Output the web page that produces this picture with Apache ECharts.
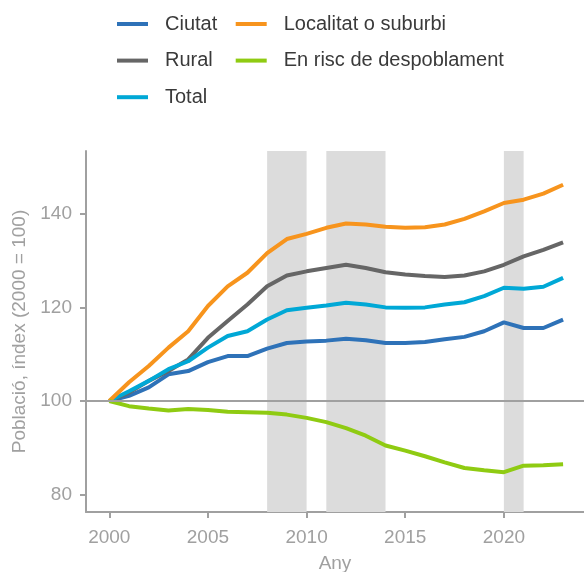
<!DOCTYPE html>
<html>
<head>
<meta charset="utf-8">
<script src="https://cdn.jsdelivr.net/npm/echarts@6/dist/echarts.min.js"></script>
<style>
  html, body { margin: 0; padding: 0; background: #fff; }
  #chart { width: 584px; height: 572px; }
</style>
</head>
<body>
<div id="chart"></div>
<script>
const years = [2000, 2001, 2002, 2003, 2004, 2005, 2006, 2007, 2008, 2009, 2010, 2011,
  2012, 2013, 2014, 2015, 2016, 2017, 2018, 2019, 2020, 2021, 2022, 2023];

const ciutat = [100, 101.1, 102.9, 105.7, 106.4, 108.3, 109.6, 109.6, 111.2, 112.4, 112.7, 112.9,
  113.3, 113.0, 112.4, 112.4, 112.6, 113.2, 113.7, 114.9, 116.8, 115.6, 115.6, 117.4];
const rural = [100, 101.8, 104.3, 106.4, 108.9, 113.5, 117.1, 120.6, 124.5, 126.8, 127.7, 128.4,
  129.1, 128.4, 127.5, 127.0, 126.7, 126.5, 126.8, 127.7, 129.1, 130.9, 132.3, 133.9];
const total = [100, 102.1, 104.3, 106.8, 108.5, 111.4, 113.9, 114.9, 117.4, 119.4, 119.9, 120.4,
  121.0, 120.6, 120.0, 119.9, 120.0, 120.6, 121.1, 122.4, 124.2, 124.0, 124.4, 126.3];
const localitat = [100, 104.0, 107.5, 111.4, 114.9, 120.3, 124.5, 127.4, 131.6, 134.6, 135.7, 137.0,
  137.9, 137.7, 137.2, 137.0, 137.1, 137.7, 138.9, 140.5, 142.3, 143.0, 144.3, 146.2];
const risc = [100, 98.9, 98.4, 98.0, 98.3, 98.1, 97.7, 97.6, 97.5, 97.1, 96.4, 95.5,
  94.2, 92.6, 90.5, 89.4, 88.2, 86.9, 85.7, 85.2, 84.8, 86.2, 86.3, 86.5];

// períodes ombrejats
const bandStart = [2008, 2011, 2020];
const bandEnd = [2010, 2014, 2021];

const xTicks = [2000, 2005, 2010, 2015, 2020];
const yTicks = [80, 100, 120, 140];

const axisGrey = '#a0a0a0';
const font = 'Liberation Sans, Arial, sans-serif';

const mkSeries = (name, data, color) => ({
  name,
  type: 'line',
  z: 3,
  color,
  data: years.map((y, i) => [y, data[i]]),
  showSymbol: false,
  lineStyle: { width: 4, color },
  silent: true,
});

const legendText = { fontFamily: font, fontSize: 20, lineHeight: 22, color: '#3a3a3a', padding: [0, 0, 0, 12] };

const chart = echarts.init(document.getElementById('chart'));

chart.setOption({
  animation: false,
  grid: {
    left: 86,
    right: 0,
    top: 151,
    bottom: 60,
    outerBoundsMode: 'none',
    containLabel: false,
  },
  legend: [
    {
      data: ['Ciutat', 'Rural', 'Total'],
      orient: 'vertical',
      left: 117,
      top: 13,
      padding: 0,
      icon: 'rect',
      itemWidth: 31,
      itemHeight: 4,
      itemGap: 14.6,
      textStyle: legendText,
    },
    {
      data: ['Localitat o suburbi', 'En risc de despoblament'],
      orient: 'vertical',
      left: 235.7,
      top: 13,
      padding: 0,
      icon: 'rect',
      itemWidth: 31,
      itemHeight: 4,
      itemGap: 14.6,
      textStyle: legendText,
    },
  ],
  xAxis: {
    type: 'value',
    min: 1998.82,
    max: 2024.06,
    name: 'Any',
    nameLocation: 'middle',
    nameGap: 42,
    nameTextStyle: { fontFamily: font, fontSize: 19, color: axisGrey },
    axisLine: { show: true, lineStyle: { color: axisGrey, width: 2 } },
    axisTick: { show: true, length: 6, customValues: xTicks, lineStyle: { color: axisGrey, width: 2 } },
    axisLabel: {
      customValues: xTicks,
      margin: 16,
      fontFamily: font,
      fontSize: 19,
      color: axisGrey,
      formatter: (v) => String(v),
    },
    splitLine: { show: false },
  },
  yAxis: {
    type: 'value',
    min: 76.3,
    max: 153.4,
    name: 'Població, índex (2000 = 100)',
    nameLocation: 'middle',
    nameGap: 52,
    nameTextStyle: { fontFamily: font, fontSize: 19, color: axisGrey },
    axisLine: { show: true, lineStyle: { color: axisGrey, width: 2 } },
    axisTick: { show: true, length: 6, customValues: yTicks, lineStyle: { color: axisGrey, width: 2 } },
    axisLabel: { customValues: yTicks, margin: 14, fontFamily: font, fontSize: 19, color: axisGrey },
    splitLine: { show: false },
  },
  series: [
    {
      name: 'bands',
      type: 'line',
      z: 1,
      data: [],
      silent: true,
      markArea: {
        silent: true,
        itemStyle: { color: '#dcdcdc' },
        data: bandStart.map((s, i) => [{ xAxis: s }, { xAxis: bandEnd[i] }]),
      },
      markLine: {
        silent: true,
        symbol: 'none',
        label: { show: false },
        lineStyle: { color: axisGrey, width: 2, type: 'solid' },
        data: [{ yAxis: 100 }],
      },
    },
    mkSeries('Ciutat', ciutat, '#2e72b8'),
    mkSeries('Rural', rural, '#666666'),
    mkSeries('Total', total, '#00a8d6'),
    mkSeries('Localitat o suburbi', localitat, '#f7941d'),
    mkSeries('En risc de despoblament', risc, '#8fcb12'),
  ],
});
</script>
</body>
</html>
